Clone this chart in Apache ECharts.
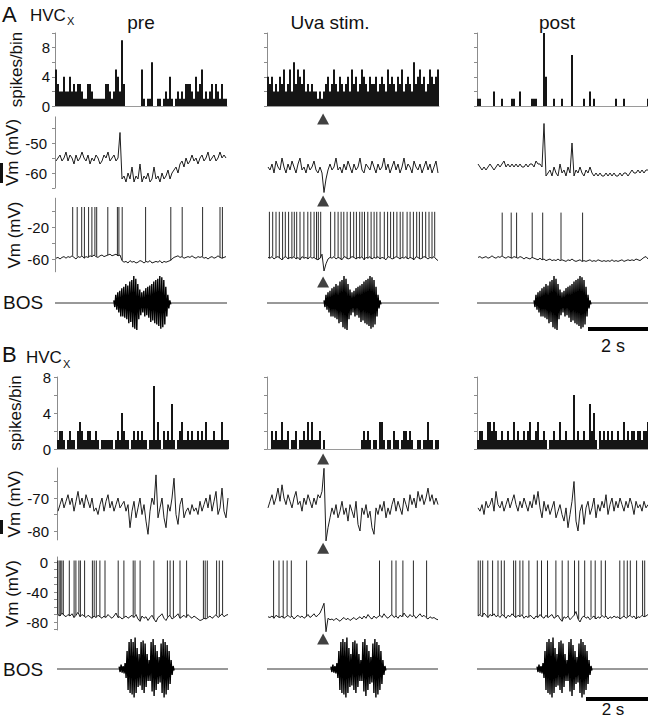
<!DOCTYPE html>
<html><head><meta charset="utf-8">
<script src="https://cdn.jsdelivr.net/npm/echarts@6/dist/echarts.min.js"></script>
<style>html,body{margin:0;padding:0;background:#fff}#c{width:648px;height:720px}</style>
</head><body><div id="c"></div>
<script>
// ---------------- DATA ----------------
const columns = ['pre', 'Uva stim.', 'post'];
const stimTime = 1.87;              // s, stimulation time in the middle column
const songOnsetA = [1.96, 1.9, 1.9]; // s
const songOnsetB = [2.07, 2.13, 2.0];

// Panel A histograms (spikes/bin)
const histA_pre = [5,3,2,2,4,2,2,4,2,3, 2,3,3,2,1,1,3,3,2,1, 1,1,1,1,1,3,3,2,1,2, 5,4,2,9,3,0,0,0,0,0, 0,0,0,5,1,0,1,1,6,0, 0,1,1,0,1,2,1,4,1,0, 1,2,1,2,1,3,3,3,2,1, 4,2,3,5,1,2,1,2,3,1, 3,2,1,3,1,1];
const histA_uva = [4,3,4,2,3,2,4,3,5,2, 3,5,2,6,3,5,4,3,5,2, 3,2,3,2,2,1,2,1,2,3, 4,2,3,5,3,2,4,3,2,3, 4,2,5,3,4,2,3,5,4,3, 2,4,3,3,4,2,3,4,3,2, 5,3,4,3,2,4,3,5,2,3, 4,3,2,6,3,4,5,3,4,2, 3,5,4,3,4,5];
const histA_post = [1,1,0,0,0,0,0,0,2,0, 0,0,1,0,0,0,0,1,1,0, 0,2,0,0,0,0,0,1,1,1, 0,0,0,10,4,0,0,0,1,0, 0,0,1,0,0,0,0,7,0,0, 0,0,0,1,0,0,2,0,1,0, 0,0,0,0,0,0,0,0,0,1, 0,0,0,1,0,0,0,0,0,0, 0,0,0,0,0,1];

// Panel A mean Vm (mV)
const vmA_pre = [-56,-55,-54,-56,-55,-53,-56,-54,-55,-57, -54,-56,-55,-53,-55,-56,-54,-57,-55,-56, -54,-55,-57,-56,-54,-55,-53,-56,-55,-54, -56,-55,-46.5,-62,-61,-63,-60,-62,-58,-63, -61,-62,-57,-63,-61,-62,-60,-63,-62,-58, -62,-61,-63,-60,-62,-61,-59,-62,-60,-59, -58,-60,-57,-56,-58,-55,-57,-56,-54,-56, -55,-57,-55,-54,-56,-55,-53,-56,-55,-54, -56,-55,-53,-55,-54,-55];
const vmA_uva = [-58,-59,-57,-60,-56,-58,-59,-55,-58,-60, -57,-59,-56,-58,-60,-57,-55,-59,-58,-60, -57,-59,-58,-56,-59,-60,-58,-60,-66.5,-62, -59,-57,-59,-58,-55,-59,-58,-60,-57,-59, -56,-58,-60,-57,-59,-58,-55,-59,-60,-57, -58,-59,-56,-58,-60,-57,-59,-58,-55,-59, -57,-60,-58,-56,-59,-57,-60,-58,-55,-59, -57,-58,-60,-56,-58,-59,-57,-60,-58,-56, -59,-57,-60,-58,-56,-60];
const vmA_post = [-57,-58,-59,-58,-59,-58,-57,-58,-59,-58, -57,-58,-57,-56,-58,-57,-58,-57,-58,-57, -58,-57,-58,-58,-57,-58,-57,-57,-58,-56, -57,-57,-58,-43.5,-61,-60,-59,-61,-58,-60, -61,-57,-60,-59,-61,-58,-60,-50,-61,-59, -60,-58,-60,-61,-59,-60,-58,-60,-61,-60, -61,-60,-61,-61,-60,-61,-60,-61,-60,-61, -61,-60,-61,-60,-60,-61,-60,-59,-60,-60, -59,-60,-59,-60,-59,-59];

// Panel A Vm with spikes: baseline samples (mV), spike times (s), spike peaks (mV)
const spkBaseA_pre = [-59,-58,-60,-58,-57,-59,-57,-58,-56,-58, -60,-57,-58,-56,-59,-57,-58,-56,-57,-55, -57,-58,-56,-55,-57,-56,-55,-54,-56,-55, -54,-56,-55,-62,-64,-63,-65,-62,-64,-63, -65,-64,-62,-63,-65,-63,-64,-62,-65,-64, -63,-64,-62,-65,-63,-64,-63,-62,-60,-58, -57,-56,-58,-57,-59,-58,-57,-58,-56,-58, -59,-57,-58,-57,-59,-58,-60,-58,-57,-59, -58,-56,-58,-59,-58,-57];
const spkBaseA_uva = [-58,-59,-57,-60,-58,-57,-59,-61,-58,-57, -60,-58,-59,-57,-60,-58,-61,-57,-59,-58, -60,-57,-59,-58,-60,-61,-59,-54,-75,-66, -60,-58,-59,-57,-60,-58,-59,-61,-57,-58, -60,-59,-57,-58,-60,-58,-59,-57,-61,-58, -59,-57,-60,-58,-59,-57,-60,-58,-59,-61, -57,-58,-60,-59,-57,-58,-60,-58,-59,-57, -60,-58,-59,-61,-57,-58,-60,-59,-57,-58, -60,-58,-59,-57,-60,-62];
const spkBaseA_post = [-58,-57,-59,-58,-57,-59,-58,-56,-58,-59, -57,-58,-56,-58,-59,-57,-58,-59,-57,-58, -59,-57,-58,-60,-58,-59,-60,-58,-59,-60, -61,-59,-61,-60,-62,-61,-60,-62,-61,-62, -60,-62,-61,-62,-63,-61,-62,-60,-62,-63, -62,-61,-63,-62,-63,-62,-61,-63,-62,-63, -61,-62,-63,-62,-63,-62,-63,-61,-63,-62, -63,-62,-61,-63,-62,-61,-62,-61,-62,-60, -61,-62,-60,-58,-57,-60];
const spkTimesA_pre = [0.59,0.74,0.89,0.98,1.12,1.23,1.33,1.39,1.76,2.08,2.13,2.24,3.02,3.86,4.24,4.92,5.50,5.58];
const spkTimesA_uva = [0.08,0.19,0.30,0.41,0.52,0.61,0.72,0.83,0.91,0.99,1.10,1.23,1.36,1.46,1.57,1.65,1.71,1.79,2.12,2.26,2.37,2.47,2.56,2.67,2.78,2.89,2.98,3.09,3.17,3.25,3.36,3.47,3.57,3.66,3.77,3.91,4.02,4.12,4.22,4.33,4.44,4.53,4.67,4.77,4.88,4.99,5.08,5.18,5.29,5.40,5.50,5.59];
const spkTimesA_post = [0.84,1.14,1.32,1.84,2.19,2.80,3.52];
const spkPeakA = [5, -1, -2];

// Panel A song oscillogram (relative amplitude, 1/30 s per sample)
const songA = [0.10,-0.15,0.30,-0.25,0.40,-0.35,0.45,-0.50,0.55,-0.50, 0.60,-0.55,0.70,-0.60,0.65,-0.75,0.80,-0.70,0.85,-0.90, 1.00,-0.95,0.90,-1.00,0.70,-0.60,0.50,-0.45,0.40,-0.35, 0.45,-0.50,0.55,-0.45,0.60,-0.55,0.65,-0.70,0.70,-0.65, 0.80,-0.75,0.85,-0.80,0.90,-0.85,1.00,-0.95,0.95,-0.90, 0.85,-0.80,0.60,-0.50,0.30,-0.20,0.10,-0.05];

// Panel B histograms
const histB_pre = [1,2,2,1,0,1,2,1,1,0, 2,3,2,1,1,2,2,1,1,2, 1,0,1,1,1,1,1,1,0,1, 2,1,4,2,1,1,0,1,2,1, 2,1,2,1,1,0,1,1,7,1, 3,1,0,2,1,2,1,5,1,0, 1,2,3,1,1,2,1,2,1,1, 2,1,2,1,3,1,1,1,2,1, 1,1,3,1,1,1];
const histB_uva = [0,0,2,1,2,1,1,3,1,1, 2,0,1,1,2,0,1,1,2,1, 3,1,3,1,1,1,2,0,1,0, 0,0,0,0,0,0,0,0,0,0, 0,0,0,0,0,0,0,1,2,1, 2,1,0,1,1,0,3,3,1,0, 1,1,0,2,1,1,0,1,2,2, 1,2,1,0,0,1,1,0,1,1, 3,1,1,0,1,1];
const histB_post = [1,2,2,1,1,3,3,2,3,2, 1,1,2,1,1,2,1,1,3,1, 2,1,1,2,1,2,3,1,1,2, 3,1,1,2,1,0,1,1,2,1, 1,3,1,1,2,1,1,1,6,1, 2,1,1,2,1,1,5,2,4,1, 0,2,1,2,1,2,1,2,1,1, 2,1,1,3,1,2,1,2,2,1, 2,2,1,2,2,3];

// Panel B mean Vm
const vmB_pre = [-74,-72,-70,-73,-71,-69,-72,-70,-74,-71, -68,-72,-70,-73,-69,-71,-73,-70,-74,-73, -75,-72,-70,-74,-71,-69,-73,-71,-74,-72, -70,-73,-72,-71,-74,-72,-79,-74,-71,-76, -73,-70,-75,-72,-77,-81,-74,-70,-72,-63, -76,-73,-70,-76,-79,-72,-74,-70,-64,-75, -78,-72,-70,-76,-74,-73,-75,-72,-74,-73, -75,-71,-74,-72,-70,-73,-69,-74,-71,-68, -75,-73,-67,-74,-76,-70];
const vmB_uva = [-73,-71,-69,-72,-70,-67,-71,-66,-70,-72, -69,-71,-73,-70,-68,-72,-71,-74,-70,-72, -69,-71,-73,-70,-72,-69,-70,-68,-61,-83, -79,-76,-73,-75,-72,-76,-74,-71,-75,-73, -77,-72,-74,-76,-71,-78,-80,-73,-75,-72, -76,-74,-79,-81,-73,-75,-72,-74,-71,-76, -73,-75,-72,-70,-74,-71,-73,-75,-70,-72, -74,-69,-72,-70,-73,-68,-71,-69,-72,-70, -67,-71,-69,-72,-70,-72];
const vmB_post = [-73,-74,-72,-75,-71,-73,-72,-70,-74,-68, -72,-73,-71,-74,-72,-70,-73,-71,-69,-72, -74,-71,-73,-70,-72,-74,-71,-73,-69,-72, -68,-73,-76,-71,-74,-72,-75,-73,-71,-76, -74,-72,-75,-77,-73,-79,-75,-71,-65,-77, -80,-74,-72,-78,-73,-71,-75,-73,-70,-76, -72,-74,-71,-73,-69,-75,-72,-70,-74,-71, -73,-70,-72,-74,-71,-73,-70,-72,-75,-71, -73,-72,-74,-71,-73,-72];

// Panel B Vm with spikes
const spkBaseB_pre = [-70,-72,-68,-71,-73,-70,-72,-69,-74,-71, -67,-73,-70,-72,-74,-71,-73,-75,-72,-74, -71,-73,-75,-72,-74,-70,-73,-75,-72,-68, -74,-73,-76,-74,-72,-75,-73,-71,-74,-70, -76,-79,-72,-75,-73,-78,-74,-71,-76,-80, -74,-72,-69,-75,-78,-73,-71,-76,-74,-72, -69,-75,-73,-71,-74,-70,-73,-75,-72,-74, -76,-78,-77,-75,-76,-74,-72,-75,-73,-70, -74,-72,-69,-73,-71,-70];
const spkBaseB_uva = [-73,-74,-72,-75,-71,-73,-74,-72,-75,-73, -71,-74,-72,-76,-73,-71,-74,-72,-75,-73, -70,-74,-72,-69,-73,-71,-68,-62,-55,-93, -75,-77,-76,-78,-75,-77,-79,-76,-74,-77, -75,-78,-76,-74,-77,-75,-73,-76,-72,-75, -70,-74,-76,-72,-75,-73,-71,-74,-69,-73, -75,-72,-70,-74,-72,-75,-71,-73,-68,-72, -74,-70,-73,-71,-75,-72,-69,-73,-71,-74, -76,-73,-75,-74,-76,-77];
const spkBaseB_post = [-72,-70,-73,-68,-71,-74,-70,-72,-69,-73, -71,-74,-70,-72,-75,-71,-73,-69,-72,-74, -71,-73,-70,-75,-72,-74,-71,-73,-76,-72, -74,-70,-73,-75,-71,-74,-72,-70,-75,-73, -71,-76,-79,-73,-75,-72,-77,-74,-71,-66, -76,-80,-74,-72,-75,-73,-77,-74,-72,-76, -73,-75,-71,-74,-72,-76,-73,-75,-72,-74, -73,-76,-74,-72,-75,-73,-71,-74,-72,-76, -73,-74,-71,-73,-72,-70];
const spkTimesB_pre = [0.02,0.07,0.11,0.16,0.21,0.41,0.57,0.63,0.73,0.78,0.92,1.18,1.24,1.31,1.43,1.60,2.04,2.23,2.54,2.60,2.77,3.23,3.68,3.77,3.88,4.10,4.32,4.88,4.94,5.01,5.32,5.41,5.52];
const spkTimesB_uva = [0.22,0.40,0.54,0.67,0.81,1.32,3.75,4.16,4.30,4.53,4.88,5.32];
const spkTimesB_post = [0.04,0.11,0.19,0.36,0.52,0.70,0.81,0.91,1.22,1.29,1.43,1.53,1.73,2.01,2.15,2.35,2.63,2.84,3.04,3.25,3.39,3.59,3.80,3.94,4.14,4.28,4.76,4.90,5.01,5.11,5.32,5.52,5.59];
const spkPeakB = [2, 2, 2];

const songB = [0.08,-0.10,0.15,-0.12,0.10,-0.15,0.20,-0.30,0.60,-0.70, 0.90,-0.80,1.00,-0.85,0.90,-0.95,1.05,-0.80,0.70,-0.60, 0.50,-0.55,0.90,-0.70,0.95,-0.80,0.85,-0.60,0.50,-0.40, 0.30,-0.40,0.90,-0.75,1.00,-0.90,0.80,-0.70,0.60,-0.50, 0.40,-0.45,0.85,-0.80,1.00,-0.95,0.90,-0.85,0.80,-0.70, 0.60,-0.50,0.30,-0.20,0.10,-0.05];

// Axis ticks / labels
const histTicksA = [0,2,4,6,8,10], histLabelsA = [0,4,8];
const vmTicksA = [-65,-60,-55,-50,-45], vmLabelsA = [-60,-50];
const spkTicksA = [-60,-40,-20,0], spkLabelsA = [-60,-20];
const histTicksB = [0,2,4,6,8], histLabelsB = [0,4,8];
const vmTicksB = [-80,-75,-70,-65], vmLabelsB = [-80,-70];
const spkTicksB = [-90,-80,-70,-60,-50,-40,-30,-20,-10,0], spkLabelsB = [-80,-40,0];
const scaleBarSeconds = 2;

// ---------------- LAYOUT / BUILD ----------------
const FONT = '"Liberation Sans", Arial, Helvetica, sans-serif';
const PX_PER_S = 30;
const DT = 2 / PX_PER_S;
const grid = [], xAxis = [], yAxis = [], series = [];

function panel(p) {
  const i = grid.length;
  const top = p.yRef - (p.max - p.vRef) * p.k;
  const height = (p.max - p.min) * p.k;
  grid.push({left: p.left, top: top, width: p.width, height: height});
  xAxis.push({gridIndex: i, type: 'value', min: 0, max: p.width / PX_PER_S, show: !!p.xLine,
    axisLine: {show: true, onZero: false, lineStyle: {color: '#9a9a9a', width: 1}},
    axisTick: {show: false}, axisLabel: {show: false}, splitLine: {show: false}});
  yAxis.push({gridIndex: i, type: 'value', min: p.min, max: p.max, show: !!p.ticks,
    axisLine: {show: true, lineStyle: {color: '#8c8c8c', width: 1}},
    axisTick: {show: true, inside: false, length: 3, customValues: p.ticks || [], lineStyle: {color: '#8c8c8c'}},
    axisLabel: {show: !!p.labels, customValues: p.labels || [], margin: p.margin || 6, color: '#111', fontSize: 15, fontFamily: FONT},
    splitLine: {show: false},
    name: p.name || '', nameLocation: 'middle', nameGap: p.nameGap || 30, nameRotate: 90,
    nameTextStyle: {color: '#111', fontSize: 17, fontFamily: FONT}});
  return i;
}
const base = {silent: true, animation: false};
function addBars(i, arr) {
  series.push(Object.assign({type: 'bar', xAxisIndex: i, yAxisIndex: i, barWidth: 2,
    itemStyle: {color: '#151515'}, data: arr.map((v, k) => [(k + 0.5) * DT, v])}, base));
}
function addTrace(i, arr) {
  series.push(Object.assign({type: 'line', xAxisIndex: i, yAxisIndex: i, symbol: 'none', clip: false,
    lineStyle: {color: '#1e1e1e', width: 1}, data: arr.map((v, k) => [(k + 0.5) * DT, v])}, base));
}
function addSpikes(i, times, baseArr, peak) {
  series.push(Object.assign({type: 'custom', xAxisIndex: i, yAxisIndex: i, clip: false,
    encode: {x: 0, y: [1, 2]},
    data: times.map(t => [t, baseArr[Math.min(baseArr.length - 1, Math.max(0, Math.round(t / DT - 0.5)))], peak]),
    renderItem: (params, api) => {
      const a = api.coord([api.value(0), api.value(1)]);
      const b = api.coord([api.value(0), api.value(2)]);
      return {type: 'line', shape: {x1: a[0], y1: a[1], x2: b[0], y2: b[1]}, style: {stroke: '#2a2a2a', lineWidth: 1}};
    }}, base));
}
function addSong(i, song, onset, width) {
  series.push(Object.assign({type: 'line', xAxisIndex: i, yAxisIndex: i, symbol: 'none',
    lineStyle: {color: '#333', width: 1}, data: [[0, 0], [width / PX_PER_S, 0]]}, base));
  series.push(Object.assign({type: 'line', xAxisIndex: i, yAxisIndex: i, symbol: 'none', clip: false,
    lineStyle: {color: '#000', width: 1.4}, data: song.map((v, k) => [onset + k / PX_PER_S, v])}, base));
}
function addStim(i, yVal, offset) {
  series.push(Object.assign({type: 'scatter', xAxisIndex: i, yAxisIndex: i, symbol: 'triangle',
    symbolSize: [12, 11], symbolOffset: [0, offset], clip: false, itemStyle: {color: '#111'},
    data: [[stimTime, yVal]]}, base));
}

// ---- Section A ----
const leftA = [55, 267, 477], widthA = [172, 172, 171];
const histA = [histA_pre, histA_uva, histA_post];
const vmA = [vmA_pre, vmA_uva, vmA_post];
const spkBaseA = [spkBaseA_pre, spkBaseA_uva, spkBaseA_post];
const spkTimesA = [spkTimesA_pre, spkTimesA_uva, spkTimesA_post];
for (let c = 0; c < 3; c++) {
  const L = leftA[c], W = widthA[c];
  const h = panel({left: L, width: W, yRef: 106, vRef: 0, k: 7.3, min: 0, max: 10, xLine: true,
    ticks: histTicksA, labels: c === 0 ? histLabelsA : null, margin: 5,
    name: c === 0 ? 'spikes/bin' : '', nameGap: 30});
  addBars(h, histA[c]);
  if (c === 1) addStim(h, 0, 13);
  const vmMin = c === 1 ? -68 : -65;
  const v = panel({left: L, width: W, yRef: 173, vRef: -60, k: 3, min: vmMin, max: -41.3,
    ticks: c === 0 ? vmTicksA : null, labels: c === 0 ? vmLabelsA : null, margin: 8,
    name: c === 0 ? 'Vm (mV)' : '', nameGap: 31});
  addTrace(v, vmA[c]);
  if (c === 1) addStim(v, vmMin, 4);
  const s = panel({left: L, width: W, yRef: 227, vRef: -20, k: 0.8, min: -76, max: 16,
    ticks: c === 0 ? spkTicksA : null, labels: c === 0 ? spkLabelsA : null, margin: 6,
    name: c === 0 ? 'Vm (mV)' : '', nameGap: 31});
  addTrace(s, spkBaseA[c]);
  addSpikes(s, spkTimesA[c], spkBaseA[c], spkPeakA[c]);
  const b = panel({left: L, width: W, yRef: 303, vRef: 0, k: 27, min: -1.1, max: 1.1});
  addSong(b, songA, songOnsetA[c], W);
  if (c === 1) addStim(b, 0, -21);
}

// ---- Section B ----
const leftB = [57, 267, 477], widthB = [171, 171, 171];
const histB = [histB_pre, histB_uva, histB_post];
const vmB = [vmB_pre, vmB_uva, vmB_post];
const spkBaseB = [spkBaseB_pre, spkBaseB_uva, spkBaseB_post];
const spkTimesB = [spkTimesB_pre, spkTimesB_uva, spkTimesB_post];
for (let c = 0; c < 3; c++) {
  const L = leftB[c], W = widthB[c];
  const h = panel({left: L, width: W, yRef: 449, vRef: 0, k: 9, min: 0, max: 8, xLine: true,
    ticks: histTicksB, labels: c === 0 ? histLabelsB : null, margin: 6,
    name: c === 0 ? 'spikes/bin' : '', nameGap: 33});
  addBars(h, histB[c]);
  if (c === 1) addStim(h, 0, 10);
  const vmMin = c === 1 ? -84 : -82.7, vmMax = c === 1 ? -60 : -60.9;
  const v = panel({left: L, width: W, yRef: 498, vRef: -70, k: 3.3, min: vmMin, max: vmMax,
    ticks: c === 0 ? vmTicksB : null, labels: c === 0 ? vmLabelsB : null, margin: 8,
    name: c === 0 ? 'Vm (mV)' : '', nameGap: 34});
  addTrace(v, vmB[c]);
  if (c === 1) addStim(v, vmMin, 4);
  const sMin = c === 1 ? -96 : -90.7;
  const s = panel({left: L, width: W, yRef: 562, vRef: 0, k: 0.75, min: sMin, max: 6.7,
    ticks: c === 0 ? spkTicksB : null, labels: c === 0 ? spkLabelsB : null, margin: 9,
    name: c === 0 ? 'Vm (mV)' : '', nameGap: 36});
  addTrace(s, spkBaseB[c]);
  addSpikes(s, spkTimesB[c], spkBaseB[c], spkPeakB[c]);
  if (c === 1) addStim(s, sMin, 5);
  const b = panel({left: L, width: W, yRef: 669, vRef: 0, k: 30, min: -1.1, max: 1.1});
  addSong(b, songB, songOnsetB[c], W);
}

// ---- Text & decorations ----
function txt(x, y, s, size, align) {
  return {type: 'text', x: x, y: y, silent: true,
    style: {text: s, fontSize: size, fontFamily: FONT, fill: '#111', textAlign: align || 'left', textVerticalAlign: 'middle'}};
}
const colCenters = [141, 330, 557];
const graphic = [
  txt(2, 14, 'A', 22), txt(30, 15, 'HVC', 17), txt(67, 21, 'X', 11),
  txt(colCenters[0], 22, columns[0], 19, 'center'),
  txt(colCenters[1], 22, columns[1], 19, 'center'),
  txt(colCenters[2], 22, columns[2], 19, 'center'),
  txt(3, 302, 'BOS', 19),
  {type: 'rect', silent: true, shape: {x: 588, y: 327, width: scaleBarSeconds * PX_PER_S, height: 4}, style: {fill: '#000'}},
  txt(613, 346, scaleBarSeconds + ' s', 18, 'center'),
  txt(2, 354, 'B', 22), txt(26, 357, 'HVC', 17), txt(63, 364, 'X', 11),
  txt(3, 669, 'BOS', 19),
  {type: 'rect', silent: true, shape: {x: 586, y: 697, width: scaleBarSeconds * PX_PER_S + 2, height: 4}, style: {fill: '#000'}},
  txt(613, 709, scaleBarSeconds + ' s', 17, 'center'),
  {type: 'rect', silent: true, shape: {x: 0, y: 163, width: 3, height: 20}, style: {fill: '#111'}},
  {type: 'rect', silent: true, shape: {x: 0, y: 520, width: 3, height: 14}, style: {fill: '#111'}}
];

const chart = echarts.init(document.getElementById('c'), null, {renderer: 'svg'});
chart.setOption({animation: false, backgroundColor: '#fff', grid, xAxis, yAxis, series, graphic});
</script>
</body></html>
